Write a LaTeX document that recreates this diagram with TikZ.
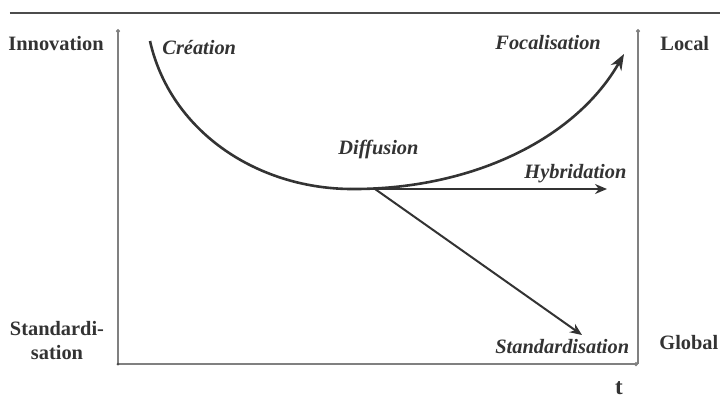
\documentclass[tikz,border=0pt]{standalone}
\usepackage{fontspec}
\setmainfont{Liberation Serif}
\usetikzlibrary{arrows.meta}
\begin{document}
\begin{tikzpicture}[x=0.5pt,y=-0.5pt,
  lbl/.style={font=\fontsize{10.2}{12}\selectfont\bfseries, text=black!80, inner sep=0pt},
  ilbl/.style={font=\fontsize{10.2}{12}\selectfont\bfseries\itshape, text=black!80, inner sep=0pt},
  axis/.style={draw=black!50, line width=0.6pt, -{Circle[length=2pt]}},
  curve/.style={draw=black!80, line width=1.3pt},
  branch/.style={draw=black!80, line width=1pt, -{Stealth[length=6pt,width=5pt]}}]
\useasboundingbox (0,0) rectangle (720,403);
\draw[draw=black!70, line width=0.8pt] (10,13) -- (720,13);
% axes
\coordinate (O) at (118,364);
\coordinate (Ytop) at (118,29);
\coordinate (Xend) at (638,364);
\coordinate (Rtop) at (638,29);
\draw[axis] (O) -- (Ytop);
\draw[axis] (O) -- (Xend);
\draw[axis] (Xend) -- (Rtop);
\fill[black!70] (O) circle (1.5);
% labels
\node[lbl, anchor=west] (innov) at (8,44) {Innovation};
\node[lbl, anchor=west] (local) at (660,44) {Local};
\node[lbl, align=center] (stdl) at (57,341) {Standardi-\\sation};
\node[lbl, anchor=west] (global) at (659,343) {Global};
\node[lbl, font=\fontsize{11.5}{13}\selectfont\bfseries] (t) at (619,388) {t};
% curve
\coordinate (c0) at (150,41);
\coordinate (cmin) at (350,189);
\coordinate (cend) at (624,54);
\draw[curve] (c0) .. controls (170,130) and (255,188) .. (cmin);
\draw[curve, -{Stealth[length=8pt,width=6pt]}] (cmin) .. controls (470,190) and (575,140) .. (cend);
% branches
\coordinate (h0) at (345,189);
\coordinate (h1) at (607,189);
\coordinate (s0) at (375,189);
\coordinate (s1) at (582,335);
\draw[branch] (h0) -- (h1);
\draw[branch] (s0) -- (s1);
% italic labels
\node[ilbl, anchor=west] (crea) at (162,48) {Création};
\node[ilbl, anchor=west] (foca) at (495,43) {Focalisation};
\node[ilbl, anchor=west] (diff) at (338,149) {Diffusion};
\node[ilbl, anchor=west] (hyb) at (524,174) {Hybridation};
\node[ilbl, anchor=west] (std) at (495,347) {Standardisation};
\end{tikzpicture}
\end{document}
